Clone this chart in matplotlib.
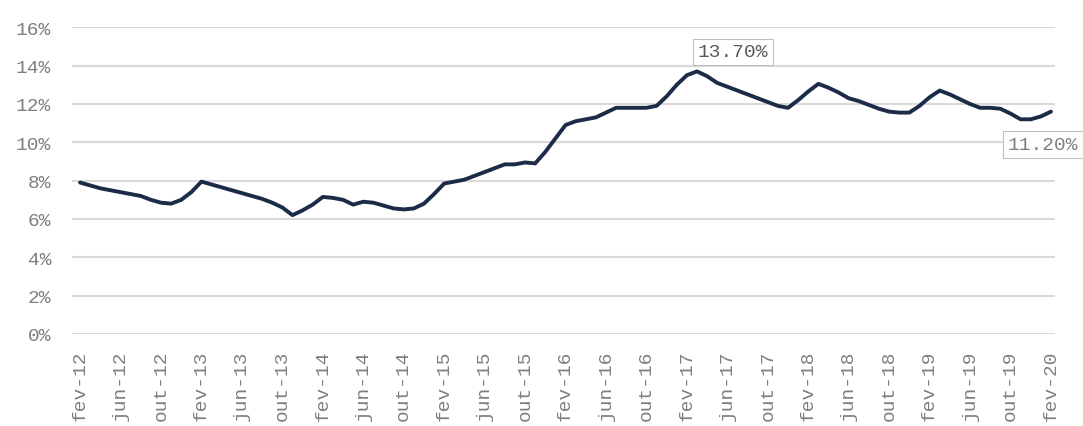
"""Monthly rate line chart, fev-12 .. fev-20, with peak and last-low labels."""
import matplotlib
matplotlib.use("Agg")
import matplotlib.pyplot as plt

MONTHS_PT = ["jan", "fev", "mar", "abr", "mai", "jun",
             "jul", "ago", "set", "out", "nov", "dez"]

# monthly values (%), fev-12 through fev-20
rate_2012 = [7.90, 7.75, 7.60, 7.50, 7.40, 7.30, 7.20, 7.00, 6.85, 6.80, 7.00]        # fev..dez
rate_2013 = [7.40, 7.95, 7.80, 7.65, 7.50, 7.35, 7.20, 7.05, 6.85, 6.60, 6.20, 6.45]
rate_2014 = [6.75, 7.15, 7.10, 7.00, 6.75, 6.90, 6.85, 6.70, 6.55, 6.50, 6.55, 6.80]
rate_2015 = [7.30, 7.85, 7.95, 8.05, 8.25, 8.45, 8.65, 8.85, 8.85, 8.95, 8.90, 9.50]
rate_2016 = [10.20, 10.90, 11.10, 11.20, 11.30, 11.55, 11.80, 11.80, 11.80, 11.80, 11.90, 12.40]
rate_2017 = [13.00, 13.50, 13.70, 13.45, 13.10, 12.90, 12.70, 12.50, 12.30, 12.10, 11.90, 11.80]
rate_2018 = [12.20, 12.65, 13.05, 12.85, 12.60, 12.30, 12.15, 11.95, 11.75, 11.60, 11.55, 11.55]
rate_2019 = [11.90, 12.35, 12.70, 12.50, 12.25, 12.00, 11.80, 11.80, 11.75, 11.50, 11.20, 11.20]
rate_2020 = [11.35, 11.60]                                                              # jan, fev

values = rate_2012 + rate_2013 + rate_2014 + rate_2015 + rate_2016 + rate_2017 + rate_2018 + rate_2019 + rate_2020
labels = []
for i in range(len(values)):
    k = i + 1  # fev-12 is month index 1
    labels.append(f"{MONTHS_PT[k % 12]}-{12 + k // 12}")

peak_label = "13.70%"
low_label = "11.20%"

FONT = ["Liberation Mono", "DejaVu Sans Mono"]
TXT = "#7f7f7f"
LINE = "#1c2b48"

fig = plt.figure(figsize=(10.83, 4.27), dpi=100)
ax = fig.add_axes([72 / 1083, 1 - 335 / 427, (1055 - 72) / 1083, (335 - 28.3) / 427])

x = list(range(len(values)))
ax.plot(x, values, color=LINE, lw=2.8, solid_capstyle="round", solid_joinstyle="round", zorder=3)

ax.set_ylim(0, 16)
ax.set_xlim(-0.8, len(values) - 1 + 0.4)
ax.set_yticks(range(0, 17, 2))
ax.set_yticklabels([f"{v}%" for v in range(0, 17, 2)], family=FONT, fontsize=14, color=TXT)
ax.set_xticks(x[::4])
ax.set_xticklabels(labels[::4], rotation=90, family=FONT, fontsize=14, color=TXT)
ax.tick_params(axis="y", length=0, pad=15)
ax.tick_params(axis="x", length=0, pad=11)
for s in ax.spines.values():
    s.set_visible(False)
ax.grid(axis="y", color="#d9d9d9", lw=1.5)
ax.set_axisbelow(True)

box = dict(boxstyle="square,pad=0.25", fc="white", ec="#bfbfbf", lw=0.8)
i_peak = values.index(max(values))
ax.annotate(peak_label, (i_peak, values[i_peak]), xytext=(26, 14), textcoords="offset points",
            ha="center", va="center", family=FONT, fontsize=14, color="#595959", bbox=box, zorder=4)
i_low = len(values) - 3
ax.annotate(low_label, (i_low, values[i_low]), xytext=(9, -18), textcoords="offset points",
            ha="center", va="center", family=FONT, fontsize=14, color=TXT, bbox=box,
            annotation_clip=False, zorder=4)

fig.savefig("out.png", dpi=100)
